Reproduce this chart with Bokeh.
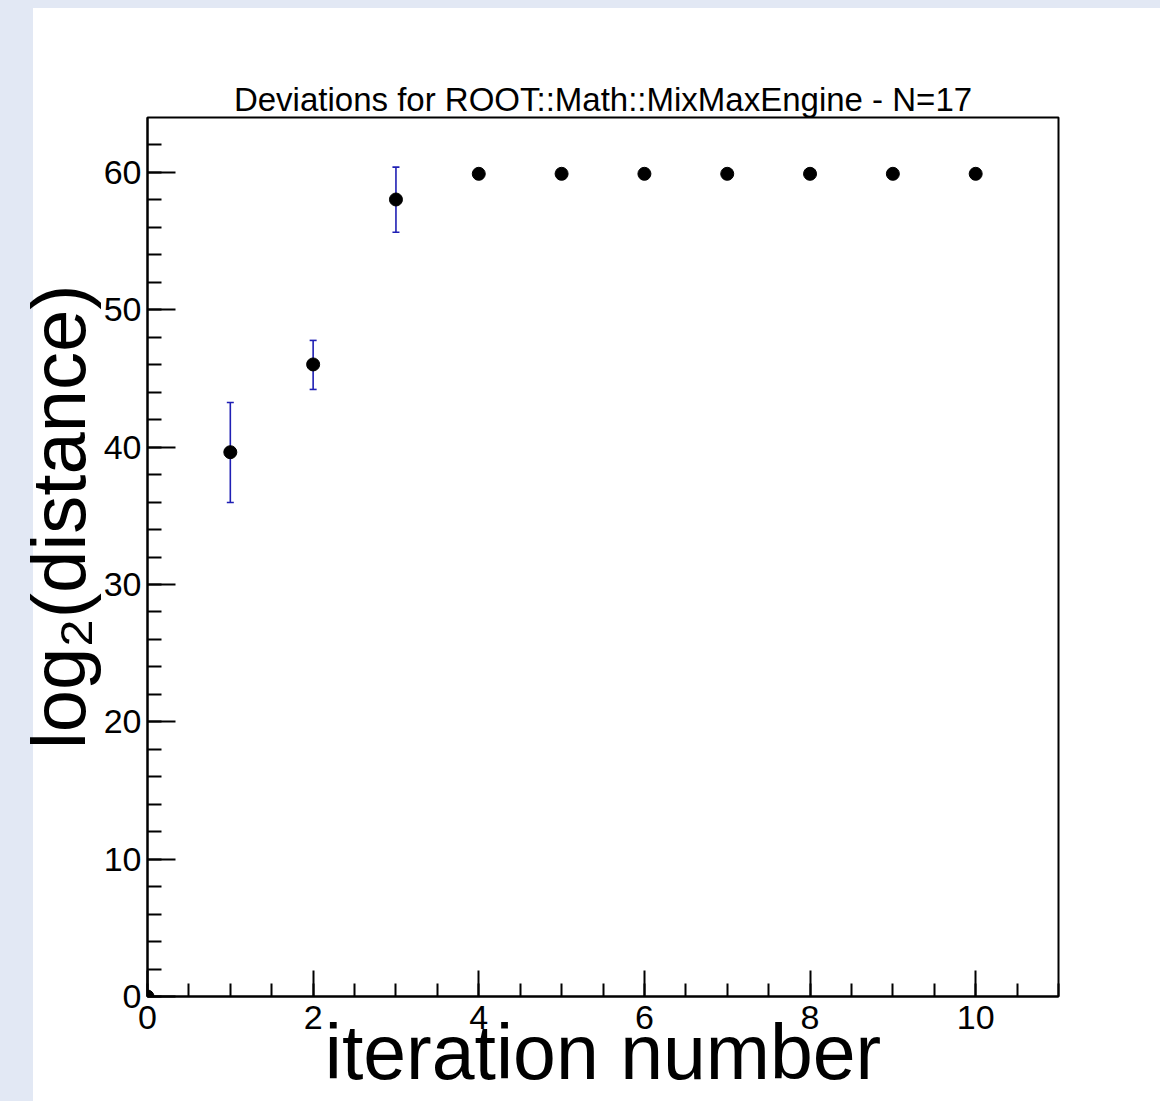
from bokeh.embed import file_html
from bokeh.models import ColumnDataSource, FixedTicker, Range1d, TeeHead, Title, Whisker
from bokeh.plotting import figure
from bokeh.resources import INLINE

# ---- data -----------------------------------------------------------------
iteration = [0, 1, 2, 3, 4, 5, 6, 7, 8, 9, 10]
log2_distance = [0.0, 39.63, 46.02, 58.03, 59.9, 59.9, 59.9, 59.9, 59.9, 59.9, 59.9]
err_low = [0.0, 35.97, 44.2, 55.65, 59.9, 59.9, 59.9, 59.9, 59.9, 59.9, 59.9]
err_high = [0.0, 43.25, 47.77, 60.39, 59.9, 59.9, 59.9, 59.9, 59.9, 59.9, 59.9]

x_major = [0, 2, 4, 6, 8, 10]
y_major = [0, 10, 20, 30, 40, 50, 60]

TITLE = "Deviations for ROOT::Math::MixMaxEngine - N=17"
X_TITLE = "iteration number"
Y_TITLE = "log\u2082(distance)"

# ---- layout -----------------------------------------------------------------
X_LO, X_HI = 0.0, 11.0
Y_LO, Y_HI = 0.0, 64.0
FONT = "Liberation Sans"
BLUE = "#1f1fb4"
PAGE_BG = "#e2e8f4"

p = figure(
    width=1160, height=1101,
    x_range=Range1d(X_LO, X_HI), y_range=Range1d(Y_LO, Y_HI),
    min_border_left=147, min_border_right=102,
    min_border_top=117, min_border_bottom=105,
    output_backend="svg", toolbar_location=None,
    background_fill_color="white", border_fill_color=None,
)
# page paper: pale blue strip along the top and left edge, white elsewhere
p.styles = {
    "background": (
        f"linear-gradient(to right, {PAGE_BG} 33px, transparent 33px), "
        f"linear-gradient(to bottom, {PAGE_BG} 8px, white 8px)"
    )
}
p.outline_line_color = "black"
p.outline_line_width = 2
p.grid.visible = False

for ax in (p.xaxis[0], p.yaxis[0]):
    ax.axis_line_color = "black"
    ax.axis_line_width = 2
    ax.major_tick_line_color = "black"
    ax.major_tick_line_width = 2
    ax.minor_tick_line_color = "black"
    ax.minor_tick_line_width = 2
    ax.major_tick_out = 0
    ax.minor_tick_out = 0
    ax.major_label_text_font = FONT
    ax.major_label_text_font_size = "34px"
    ax.major_label_text_color = "black"

xa, ya = p.xaxis[0], p.yaxis[0]
xa.ticker = FixedTicker(ticks=x_major, minor_ticks=[i * 0.5 for i in range(int(X_HI * 2) + 1)])
ya.ticker = FixedTicker(ticks=y_major, minor_ticks=list(range(0, int(Y_HI), 2)))
xa.major_tick_in, xa.minor_tick_in = 26, 13
ya.major_tick_in, ya.minor_tick_in = 28, 14
xa.major_label_standoff = 9
ya.major_label_standoff = 6


def gap(px):
    """Blank side-panel entry that only reserves roughly `px` pixels."""
    return Title(text="\u200b", text_font=FONT, text_font_size="10px",
                 text_alpha=0, standoff=max(px - 13, 0))


def title(text, size, **kw):
    return Title(text=text, text_font=FONT, text_font_size=size,
                 text_font_style="normal", text_color="black", **kw)


# main title, lifted off the frame
p.add_layout(gap(57), "above")
p.add_layout(title(TITLE, "33px", align="center", standoff=0), "above")

# x title, tucked under the tick labels
p.add_layout(title(X_TITLE, "77px", align="center", standoff=-50), "below")

# y title
p.add_layout(gap(15), "left")
p.add_layout(title(Y_TITLE, "76px", align="right", offset=167, standoff=0), "left")

# error bars (only where there is a spread)
idx = [i for i in range(len(iteration)) if err_high[i] > err_low[i]]
err_src = ColumnDataSource(data=dict(
    x=[iteration[i] for i in idx],
    lo=[err_low[i] for i in idx],
    hi=[err_high[i] for i in idx],
))
whisk = Whisker(
    source=err_src, base="x", lower="lo", upper="hi",
    line_color=BLUE, line_width=1.6, level="underlay",
    lower_head=TeeHead(size=7, line_color=BLUE, line_width=1.6),
    upper_head=TeeHead(size=7, line_color=BLUE, line_width=1.6),
)
p.add_layout(whisk)

pts = ColumnDataSource(data=dict(x=iteration, y=log2_distance))
p.scatter("x", "y", source=pts, size=13, color="black")

with open("out.html", "w") as f:
    f.write(file_html(p, INLINE))
